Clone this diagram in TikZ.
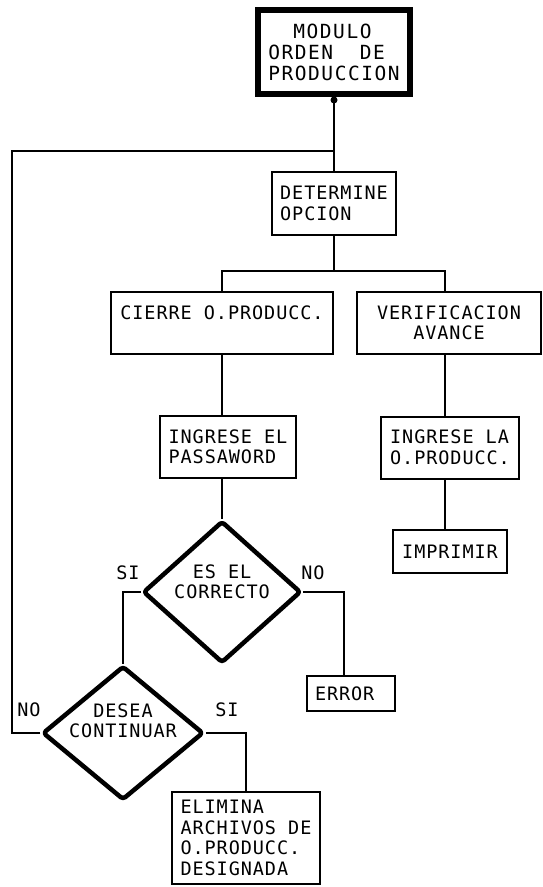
\documentclass[tikz,border=0pt]{standalone}
\usepackage{fontspec}
\usetikzlibrary{shapes.geometric}
\newfontfamily\plotfont{DejaVu Sans Mono}[LetterSpace=5]
\newfontfamily\plotfontwide{DejaVu Sans Mono}[LetterSpace=8]
\begin{document}
\begin{tikzpicture}[
  x=1pt, y=1pt,
  every node/.style={font={\plotfont\fontsize{18.5}{20.5}\selectfont}},
  box/.style={draw, line width=2pt, inner sep=0pt, align=left},
  decision/.style={draw, shape=diamond, line width=4.5pt, inner sep=0pt,
                   rounded corners=3pt, line join=round},
  link/.style={line width=1.6pt},
  tag/.style={inner sep=0pt, align=center}
]
\useasboundingbox (0,0) rectangle (543,-887);

% main module
\node[box, line width=6pt, minimum width=152, minimum height=84,
      font={\plotfontwide\fontsize{19.5}{21}\selectfont}] (mod) at (334,-52)
  {\phantom{MO}MODULO\\ORDEN\ \ DE\\PRODUCCION};
\node[box, minimum width=124, minimum height=63] (det) at (334,-203.5) {DETERMINE\\OPCION};

% the two options
\node[box, align=center, minimum width=222, minimum height=62] (cie) at (222,-323)
  {CIERRE O.PRODUCC.\\\phantom{A}};
\node[box, align=center, minimum width=184, minimum height=62] (ver) at (449,-323)
  {VERIFICACION\\AVANCE};

\node[box, minimum width=136, minimum height=62] (ing1) at (228,-447) {INGRESE EL\\PASSAWORD};
\node[box, minimum width=138, minimum height=62] (ing2) at (450,-447.5) {INGRESE LA\\O.PRODUCC.};
\node[box, minimum width=114, minimum height=43] (imp) at (450,-551.5) {IMPRIMIR};

% password check
\node[decision, minimum width=158, minimum height=142] (d1) at (222,-592) {};
\node[tag] (d1t) at (222,-582) {ES EL\\CORRECTO};
\node[tag] (d1si) at (128,-573) {SI};
\node[tag] (d1no) at (313,-573) {NO};

\node[box, text width=72pt, inner xsep=8pt, minimum height=35] (err) at (351,-693.5) {ERROR};

% continue?
\node[decision, minimum width=161, minimum height=134] (d2) at (123,-733) {};
\node[tag] (d2t) at (123,-721) {DESEA\\CONTINUAR};
\node[tag] (d2no) at (29,-710) {NO};
\node[tag] (d2si) at (227,-710) {SI};

\node[box, minimum width=148, minimum height=92] (eli) at (246,-838)
  {ELIMINA\\ARCHIVOS DE\\O.PRODUCC.\\DESIGNADA};

% connectors
\coordinate (brL) at (222,-271);
\coordinate (brR) at (445,-271);
\coordinate (eX) at (344,-592);
\coordinate (loopL) at (12,-151);

\draw[link] (mod.south) -- (det.north);
\fill ([yshift=-3pt]mod.south) circle (3.5pt);
\draw[link] (det.south) -- (det.south |- brL);
\draw[link] (cie.north) -- (brL) -- (brR) -- (brR |- ver.north);
\draw[link] (brR |- ver.south) -- (brR |- ing2.north);
\draw[link] (brR |- ing2.south) -- (brR |- imp.north);
\draw[link] (cie.south) -- (cie.south |- ing1.north);
\draw[link] (cie.south |- ing1.south) -- (d1.north);
\draw[link] (d1.west) -- (d2.north |- d1.west) -- (d2.north);
\draw[link] (d1.east) -- (d1.east -| eX) -- (eX |- err.north);
\draw[link] (d2.east) -- (d2.east -| eli.north) -- (eli.north);
\draw[link] (d2.west) -- (d2.west -| loopL) -- (loopL) -- (loopL -| mod.south);
\end{tikzpicture}
\end{document}
